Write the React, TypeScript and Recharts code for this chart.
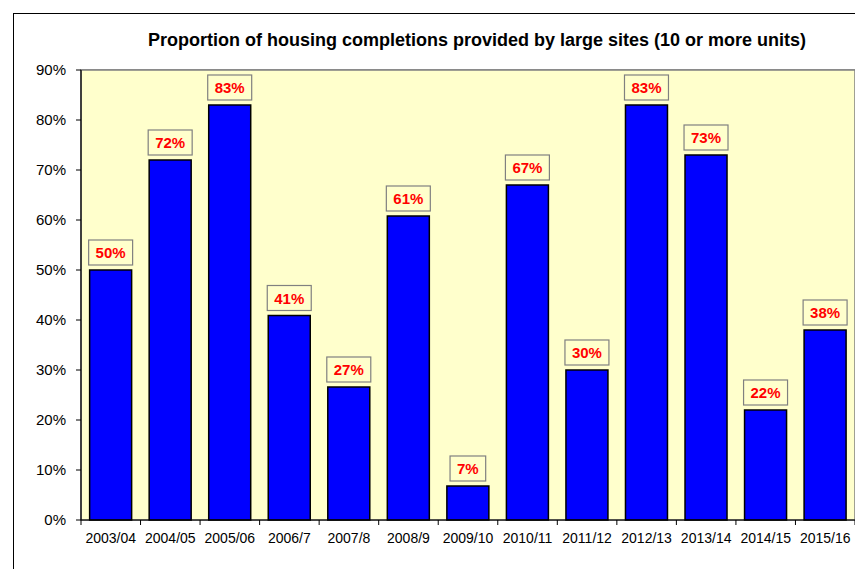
import React from "react";
import { BarChart, Bar, XAxis, YAxis, CartesianGrid, LabelList } from "recharts";

const categories = ["2003/04", "2004/05", "2005/06", "2006/7", "2007/8", "2008/9", "2009/10", "2010/11", "2011/12", "2012/13", "2013/14", "2014/15", "2015/16"];
const shares = [50, 72, 83, 40.9, 26.6, 60.8, 6.8, 67, 30, 83, 73, 22, 38];
const yTicks = [0, 10, 20, 30, 40, 50, 60, 70, 80, 90];
const title = "Proportion of housing completions provided by large sites (10 or more units)";

const data = categories.map((c, i) => ({ name: c, value: shares[i] }));

const FONT = "Arial, 'Liberation Sans', sans-serif";

const XTick = (props: any) => {
  const { x, y, payload, index } = props;
  const band = 774 / categories.length;
  const half = band / 2;
  return (
    <g>
      <line x1={x - half} x2={x - half} y1={y - 8} y2={y - 3} stroke="#000" strokeWidth={1} />
      {index === categories.length - 1 ? (
        <line x1={x + half} x2={x + half} y1={y - 8} y2={y - 3} stroke="#000" strokeWidth={1} />
      ) : null}
      <text x={x} y={y + 15} textAnchor="middle" fontSize={14} fontFamily={FONT} fill="#000">
        {payload.value}
      </text>
    </g>
  );
};

const YTick = (props: any) => {
  const { x, y, payload } = props;
  return (
    <text x={x - 8} y={y + 5} textAnchor="end" fontSize={15} fontFamily={FONT} fill="#000">
      {`${payload.value}%`}
    </text>
  );
};

const LabelBox = (props: any) => {
  const { x, y, width, value } = props;
  const txt = `${Math.round(value)}%`;
  const digits = txt.length - 1;
  const tw = digits * 8.34 + 13.3;
  const bw = tw + 14;
  const bh = 25;
  const cx = x + width / 2;
  const by = y - 5 - bh;
  return (
    <g>
      <rect x={cx - bw / 2} y={by} width={bw} height={bh} fill="none" stroke="#808080" strokeWidth={1.2} />
      <text x={cx} y={by + bh / 2 + 5.5} textAnchor="middle" fontSize={15} fontWeight="bold" fontFamily={FONT} fill="#FF0000">
        {txt}
      </text>
    </g>
  );
};

export default function App() {
  return (
    <div style={{ position: "relative", width: 855, height: 561, overflow: "hidden", background: "#fff" }}>
      <div style={{ position: "absolute", left: 5, top: 5, width: 900, height: 700, border: "1.5px solid #000", boxSizing: "border-box" }} />
      <div style={{ position: "absolute", left: 0, top: 0 }}>
        <BarChart
          width={855}
          height={561}
          data={data}
          margin={{ top: 62, right: 8, bottom: 0, left: 0 }}
          barCategoryGap="14.5%"
        >
          <text x={469} y={38} textAnchor="middle" fontSize={18} fontWeight="bold" fontFamily={FONT} fill="#000">
            {title}
          </text>
          <rect x={73} y={62} width={774} height={450} fill="#FFFFCC" stroke="#808080" strokeWidth={1.5} />
          <CartesianGrid vertical={false} horizontal stroke="#555" strokeWidth={1.2} />
          <XAxis
            dataKey="name"
            interval={0}
            height={49}
            tickLine={false}
            axisLine={{ stroke: "#000", strokeWidth: 1.2 }}
            tick={<XTick />}
          />
          <YAxis
            domain={[0, 90]}
            ticks={yTicks}
            width={73}
            interval={0}
            tick={<YTick />}
            tickSize={5}
            tickLine={{ stroke: "#000" }}
            axisLine={{ stroke: "#000", strokeWidth: 1.2 }}
          />
          <Bar dataKey="value" fill="#0000FF" stroke="#000" strokeWidth={1.5} isAnimationActive={false}>
            <LabelList dataKey="value" content={<LabelBox />} />
          </Bar>
        </BarChart>
      </div>
    </div>
  );
}
